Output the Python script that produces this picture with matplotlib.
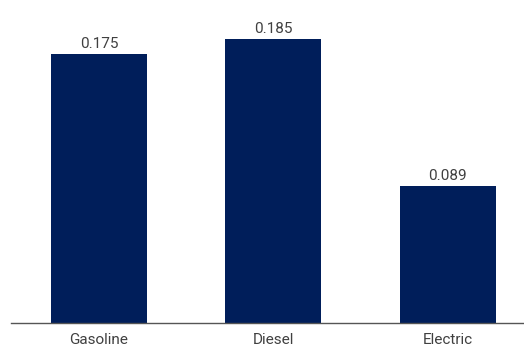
import matplotlib.pyplot as plt

plt.rcParams['font.family'] = ['Roboto', 'DejaVu Sans']

categories = ["Gasoline", "Diesel", "Electric"]
values = [0.175, 0.185, 0.089]
labels = ["0.175", "0.185", "0.089"]

bar_color = "#001E5A"
text_color = "#404040"

fig = plt.figure(figsize=(5.24, 3.47), dpi=100)
ax = fig.add_axes([0.021, 0.069, 0.979, 0.885])

x = list(range(len(categories)))
bars = ax.bar(x, values, width=0.55, color=bar_color, zorder=2)

for xi, v, lab in zip(x, values, labels):
    ax.annotate(lab, (xi, v), xytext=(0, 2.5), textcoords="offset points",
                ha="center", va="bottom", fontsize=11, color=text_color)

ax.set_xlim(-0.504, 2.436)
ax.set_ylim(0, 0.2)
ax.set_xticks(x)
ax.set_xticklabels(categories, fontsize=11, color=text_color)
ax.tick_params(axis="x", length=0, pad=7)
ax.set_yticks([])
for s in ["top", "right", "left"]:
    ax.spines[s].set_visible(False)
ax.spines["bottom"].set_color("#555555")
ax.spines["bottom"].set_linewidth(1.0)

fig.savefig("out.png", dpi=100)
